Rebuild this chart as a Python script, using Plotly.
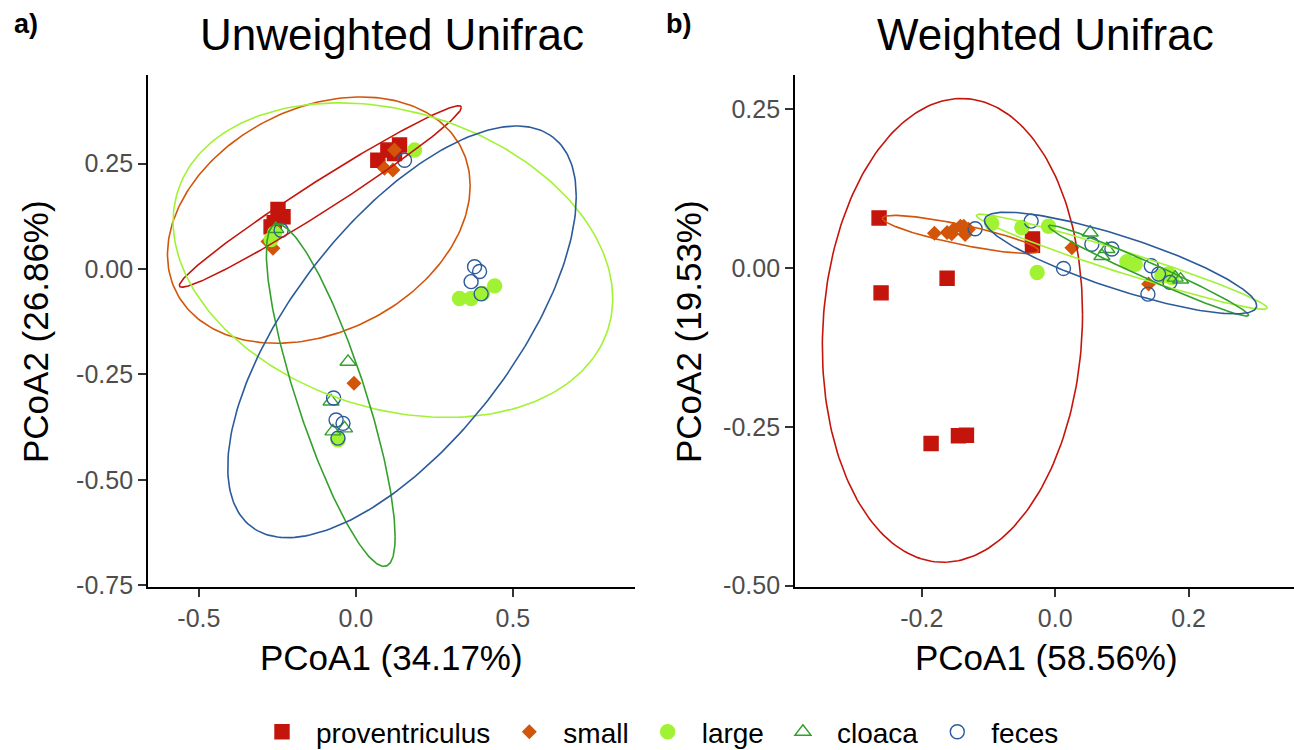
import numpy as np
import plotly.graph_objects as go

W, H = 1294, 750

groups = ["proventriculus", "small", "large", "cloaca", "feces"]
colors = ["#C4150C", "#D2550A", "#A2F234", "#33A02C", "#2B5B9B"]
symbols = ["square", "diamond", "circle", "triangle-up-open", "circle-open"]
sizes = [14, 10, 14, 14, 14]

# ---- panel a: Unweighted Unifrac ----
prov_a_x = [-0.248, -0.232, -0.270, -0.260, 0.070, 0.102, 0.139, 0.123]
prov_a_y = [0.141, 0.124, 0.100, 0.110, 0.258, 0.282, 0.294, 0.274]
small_a_x = [-0.264, -0.280, 0.123, 0.118, 0.091, -0.006]
small_a_y = [0.049, 0.065, 0.282, 0.235, 0.239, -0.271]
large_a_x = [-0.259, -0.270, 0.187, 0.330, 0.367, 0.404, 0.442, -0.057]
large_a_y = [0.085, 0.070, 0.282, -0.070, -0.070, -0.058, -0.040, -0.405]
cloaca_a_x = [-0.025, -0.079, -0.073, -0.036, -0.255]
cloaca_a_y = [-0.220, -0.314, -0.385, -0.378, 0.095]
feces_a_x = [-0.238, 0.155, 0.378, 0.394, 0.367, 0.399, -0.071, -0.063, -0.041, -0.057]
feces_a_y = [0.092, 0.258, 0.0055, -0.006, -0.030, -0.059, -0.306, -0.358, -0.366, -0.401]

# ellipse parameters (centre, half-extents, correlation) per group
ell_a_cx = [-0.113, -0.118, 0.118, -0.080, 0.147]
ell_a_cy = [0.172, 0.116, 0.021, -0.299, -0.149]
ell_a_sx = [0.449, 0.482, 0.700, 0.205, 0.555]
ell_a_sy = [0.215, 0.292, 0.373, 0.406, 0.488]
ell_a_r = [0.981, 0.279, -0.245, -0.828, 0.657]

# ---- panel b: Weighted Unifrac ----
prov_b_x = [-0.264, -0.261, -0.162, -0.186, -0.145, -0.133, -0.034, -0.034]
prov_b_y = [0.079, -0.039, -0.016, -0.276, -0.264, -0.263, 0.046, 0.036]
small_b_x = [-0.181, -0.162, -0.155, -0.152, -0.142, -0.137, -0.135, -0.130, 0.025, 0.140]
small_b_y = [0.055, 0.056, 0.054, 0.061, 0.066, 0.066, 0.053, 0.061, 0.032, -0.025]
large_b_x = [-0.095, -0.050, -0.010, -0.027, 0.1075, 0.120, 0.160, 0.170, 0.175]
large_b_y = [0.0705, 0.064, 0.066, -0.007, 0.010, 0.006, -0.012, -0.009, -0.015]
cloaca_b_x = [0.0525, 0.0775, 0.070, 0.180, 0.188]
cloaca_b_y = [0.056, 0.030, 0.019, -0.015, -0.018]
feces_b_x = [-0.120, -0.036, 0.055, 0.085, 0.0125, 0.144, 0.155, 0.172, 0.139]
feces_b_y = [0.062, 0.074, 0.0376, 0.030, -0.0005, 0.0036, -0.0094, -0.0224, -0.041]

ell_b_cx = [-0.154, -0.142, 0.100, 0.140, 0.098]
ell_b_cy = [-0.098, 0.053, 0.010, -0.004, 0.008]
ell_b_sx = [0.195, 0.117, 0.218, 0.150, 0.204]
ell_b_sy = [0.365, 0.030, 0.075, 0.0715, 0.080]
ell_b_r = [0.07, -0.849, -0.971, -0.981, -0.838]

# axis ticks / labels
xa_ticks = [-0.5, 0.0, 0.5]
xa_text = ["-0.5", "0.0", "0.5"]
ya_ticks = [0.25, 0.0, -0.25, -0.5, -0.75]
ya_text = ["0.25", "0.00", "-0.25", "-0.50", "-0.75"]
xb_ticks = [-0.2, 0.0, 0.2]
xb_text = ["-0.2", "0.0", "0.2"]
yb_ticks = [0.25, 0.0, -0.25, -0.5]
yb_text = ["0.25", "0.00", "-0.25", "-0.50"]

pts_a = [(prov_a_x, prov_a_y), (small_a_x, small_a_y), (large_a_x, large_a_y),
         (cloaca_a_x, cloaca_a_y), (feces_a_x, feces_a_y)]
pts_b = [(prov_b_x, prov_b_y), (small_b_x, small_b_y), (large_b_x, large_b_y),
         (cloaca_b_x, cloaca_b_y), (feces_b_x, feces_b_y)]

FONT = "Liberation Sans, Arial, Helvetica, sans-serif"

fig = go.Figure()

def ellipse(cx, cy, sx, sy, r, n=240):
    t = np.linspace(0, 2 * np.pi, n)
    x = cx + sx * np.cos(t)
    y = cy + sy * (r * np.cos(t) + np.sqrt(1 - r * r) * np.sin(t))
    return x, y

for panel, pts, ell, xa, ya in [
    ("a", pts_a, (ell_a_cx, ell_a_cy, ell_a_sx, ell_a_sy, ell_a_r), "x", "y"),
    ("b", pts_b, (ell_b_cx, ell_b_cy, ell_b_sx, ell_b_sy, ell_b_r), "x2", "y2"),
]:
    for i, g in enumerate(groups):
        px, py = pts[i]
        fig.add_trace(go.Scatter(
            x=px, y=py, mode="markers", name=g, xaxis=xa, yaxis=ya,
            legendgroup=g, showlegend=(panel == "a"),
            marker=dict(symbol=symbols[i], size=sizes[i], color=colors[i],
                        line=dict(width=1.4, color=colors[i])),
        ))
    for i, g in enumerate(groups):
        ex, ey = ellipse(ell[0][i], ell[1][i], ell[2][i], ell[3][i], ell[4][i])
        fig.add_trace(go.Scatter(
            x=ex, y=ey, mode="lines", xaxis=xa, yaxis=ya, showlegend=False,
            legendgroup=g, hoverinfo="skip",
            line=dict(color=colors[i], width=1.6),
        ))

axis_common = dict(showgrid=False, zeroline=False, showline=True, linecolor="black",
                   linewidth=1.8, ticks="outside", ticklen=8, tickwidth=1.8,
                   tickcolor="#333333", tickfont=dict(size=25, color="#4D4D4D", family=FONT),
                   mirror=False, automargin=False)

ydom = [1 - 587 / H, 1 - 75 / H]
fig.update_layout(
    width=W, height=H,
    margin=dict(l=0, r=0, t=0, b=0, autoexpand=False),
    plot_bgcolor="white", paper_bgcolor="white",
    font=dict(family=FONT, color="black"),
    xaxis=dict(domain=[148 / W, 635 / W], range=[-0.662, 0.889],
               tickvals=xa_ticks, ticktext=xa_text, anchor="y", **axis_common),
    yaxis=dict(domain=ydom, range=[-0.754, 0.46],
               tickvals=ya_ticks, ticktext=ya_text, anchor="x", **axis_common),
    xaxis2=dict(domain=[795 / W, 1.0], range=[-0.39, 0.358],
                tickvals=xb_ticks, ticktext=xb_text, anchor="y2", **axis_common),
    yaxis2=dict(domain=ydom, range=[-0.502, 0.304],
                tickvals=yb_ticks, ticktext=yb_text, anchor="x2", **axis_common),
    legend=dict(orientation="h", x=656 / W, xanchor="center", y=18 / H, yanchor="middle",
                font=dict(size=28, color="black", family=FONT), itemwidth=58,
                bgcolor="rgba(0,0,0,0)"),
    showlegend=True,
)

def ann(text, x, y, size, bold=False, angle=0, xanchor="center"):
    fig.add_annotation(text=f"<b>{text}</b>" if bold else text,
                       x=x / W, y=1 - y / H, xref="paper", yref="paper",
                       xanchor=xanchor, yanchor="middle", showarrow=False,
                       textangle=angle, font=dict(size=size, color="black", family=FONT))

ann("a)", 12, 24, 27, bold=True, xanchor="left")
ann("b)", 664, 24, 27, bold=True, xanchor="left")
ann("Unweighted Unifrac", 391.5, 34, 44)
ann("Weighted Unifrac", 1045.5, 34, 44)
ann("PCoA1 (34.17%)", 391.5, 657, 35)
ann("PCoA1 (58.56%)", 1046, 657, 35)
ann("PCoA2 (26.86%)", 35, 332, 35, angle=-90)
ann("PCoA2 (19.53%)", 688, 332, 35, angle=-90)

fig.write_html("out.html")
